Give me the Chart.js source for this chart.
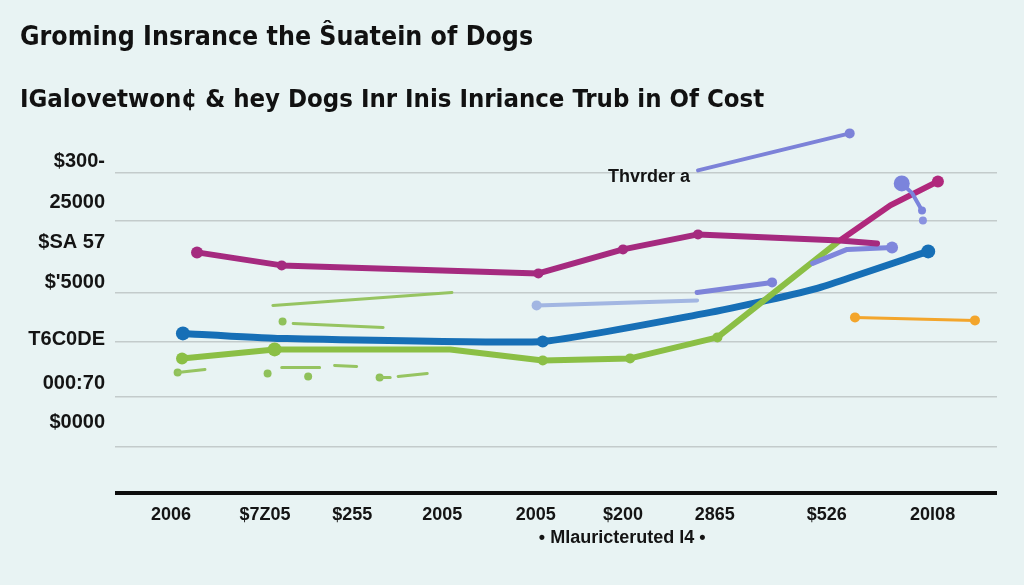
<!DOCTYPE html>
<html>
<head>
<meta charset="utf-8">
<script src="https://cdn.jsdelivr.net/npm/chart.js@4/dist/chart.umd.min.js"></script>
<style>
  html, body { margin: 0; padding: 0; background: #e8f3f3; }
  canvas { display: block; }
</style>
</head>
<body>
<canvas id="c" width="1024" height="585"></canvas>
<script>
// ---- text ----
const titleLine1 = 'Groming Insrance the Ŝuatein of Dogs';
const titleLine2 = 'IGalovetwon¢ & hey Dogs Inr Inis Inriance Trub in Of Cost';
const noteText = 'Thvrder a';
const xTitle = '• Mlauricteruted l4 •';

// ---- axes ----
const xLabels = ['2006', '$7Z05', '$255', '2005', '2005', '$200', '2865', '$526', '20l08'];
const xTickPos = [6.35, 17.0, 26.9, 37.1, 47.7, 57.6, 68.0, 80.7, 92.7];
const yLabels = ['$0000', '000:70', 'T6C0DE', "$'5000", '$SA 57', '25000', '$300-'];
const yLabelPos = [710, 1100, 1540, 2110, 2510, 2910, 3320];
const gridVals = [0, 470, 970, 1520, 2010, 2730, 3210];

// ---- series ----
const magentaX = [9.3, 18.9, 48.0, 57.6, 66.1, 82.2, 86.4];
const magentaY = [2410, 2280, 2200, 2440, 2590, 2530, 2500];
const magentaRiseX = [82.2, 87.9, 93.3];
const magentaRiseY = [2530, 2880, 3120];
const blueX = [7.7, 18.4, 48.5, 66.9, 73.9, 79.6, 92.2];
const blueY = [1600, 1550, 1520, 1800, 1930, 2050, 2420];
const greenX = [7.6, 18.1, 38.0, 48.5, 58.4, 68.3, 81.9];
const greenY = [1350, 1440, 1440, 1330, 1350, 1560, 2510];
const lightBlueX = [47.8, 66.0];
const lightBlueY = [1880, 1930];
const violetMidX = [66.0, 74.5];
const violetMidY = [2010, 2110];
const violetTopX = [66.1, 83.3];
const violetTopY = [3230, 3600];
const violetRightX = [79.1, 83.0, 88.1];
const violetRightY = [2300, 2440, 2460];
const violetBlobX = [89.2, 90.4, 91.5];
const violetBlobY = [3100, 3000, 2830];
const violetDropX = [91.6];
const violetDropY = [2730];
const orangeX = [83.9, 97.5];
const orangeY = [1760, 1730];
const fragX = [17.9, 38.2, 38.2, 20.2, 30.4, 30.4, 7.1, 10.2, 10.2, 18.9, 23.2, 23.2, 24.9, 27.4, 27.4, 30.0, 31.2, 31.2, 32.1, 35.4];
const fragY = [1880, 2010, null, 1700, 1660, null, 1210, 1240, null, 1260, 1260, null, 1280, 1270, null, 1160, 1160, null, 1170, 1200];
const fragDotX = [19.0, 17.3, 21.9, 7.1, 30.0];
const fragDotY = [1720, 1200, 1170, 1210, 1160];

// note / axis title anchors (data units)
const noteX = 65.2, noteY = 3160;
const xTitleX = 57.5;

const pts = (xs, ys) => xs.map((x, i) => ({ x: x, y: ys[i] }));

const FONT = "'Liberation Sans', Arial, sans-serif";
const NARROW = "'Liberation Sans Narrow', 'DejaVu Sans Condensed', 'Liberation Sans', sans-serif";

const textPlugin = {
  id: 'texts',
  afterDraw(chart) {
    const { ctx } = chart;
    const x = chart.scales.x, y = chart.scales.y;
    ctx.save();
    ctx.fillStyle = '#141414';
    ctx.textBaseline = 'middle';
    ctx.font = 'bold 18px ' + FONT;
    ctx.textAlign = 'right';
    ctx.fillText(noteText, x.getPixelForValue(noteX), y.getPixelForValue(noteY));
    ctx.textAlign = 'center';
    ctx.font = 'bold 18px ' + FONT;
    ctx.fillText(xTitle, x.getPixelForValue(xTitleX), x.bottom + 1);
    ctx.restore();
  }
};

const line = (data, color, width, radius, extra) => Object.assign({
  data: data,
  borderColor: color,
  backgroundColor: color,
  borderWidth: width,
  pointRadius: radius,
  pointBorderWidth: 0,
  tension: 0,
  fill: false,
  spanGaps: false,
  borderCapStyle: 'round',
  borderJoinStyle: 'round'
}, extra || {});

new Chart(document.getElementById('c'), {
  type: 'line',
  data: {
    datasets: [
      line(pts(violetBlobX, violetBlobY), '#7b84dc', 4, [8, 0, 4], { order: 1 }),
      line(pts(violetDropX, violetDropY), '#8a92e0', 0, [4], { order: 1, showLine: false }),
      line(pts(magentaRiseX, magentaRiseY), '#b0287c', 6, [0, 0, 6], { order: 2 }),
      line(pts(magentaX, magentaY), '#a52a7f', 6, [6, 5, 5, 5, 5, 0, 0], { order: 3 }),
      line(pts(violetRightX, violetRightY), '#7f86dc', 5, [0, 0, 6], { order: 4 }),
      line(pts(greenX, greenY), '#8bbf45', 6, [6, 7, 0, 5, 5, 5, 0], { order: 5 }),
      line(pts(blueX, blueY), '#176fb6', 7, [7, 0, 6, 0, 0, 0, 7], { order: 6, tension: 0.15 }),
      line(pts(violetMidX, violetMidY), '#7d83d9', 5, [0, 5], { order: 7 }),
      line(pts(lightBlueX, lightBlueY), '#a2b6e2', 4, [5, 0], { order: 8 }),
      line(pts(violetTopX, violetTopY), '#7c82d8', 4, [0, 5], { order: 8 }),
      line(pts(orangeX, orangeY), '#f3a52b', 3, [5, 5], { order: 8 }),
      line(pts(fragX, fragY), '#96c461', 3, 0, { order: 9 }),
      line(pts(fragDotX, fragDotY), '#8fc15a', 0, 4, { order: 9, showLine: false })
    ]
  },
  options: {
    responsive: false,
    animation: false,
    events: [],
    layout: { padding: { left: 20, right: 27, top: 0, bottom: 48 } },
    plugins: {
      legend: { display: false },
      tooltip: { enabled: false },
      title: {
        display: true,
        text: titleLine1,
        align: 'start',
        color: '#111',
        font: { family: NARROW, size: 26.5, weight: 'bold', lineHeight: 1.2 },
        padding: { top: 22, bottom: 31 }
      },
      subtitle: {
        display: true,
        text: titleLine2,
        align: 'start',
        color: '#111',
        font: { family: NARROW, size: 25.5, weight: 'bold', lineHeight: 1.2 },
        padding: { top: 0, bottom: 8 }
      }
    },
    scales: {
      x: {
        type: 'linear',
        min: 0,
        max: 100,
        grid: { display: false, drawTicks: false },
        border: { display: false },
        afterBuildTicks: (s) => { s.ticks = xTickPos.map(v => ({ value: v })); },
        ticks: {
          autoSkip: false,
          maxRotation: 0,
          padding: 11,
          color: '#141414',
          font: { family: FONT, size: 18, weight: 'bold' },
          callback: (v, i) => xLabels[i]
        }
      },
      y: {
        type: 'linear',
        position: 'left',
        min: 0,
        max: 3700,
        afterBuildTicks: (s) => { s.ticks = gridVals.map(v => ({ value: v })); },
        ticks: { display: false },
        border: { display: false },
        grid: {
          drawTicks: false,
          color: (c) => (c.tick && c.tick.value === 0) ? '#0d0d0d' : '#c3cbcb',
          lineWidth: (c) => (c.tick && c.tick.value === 0) ? 4 : 1.5
        },
        afterFit: (s) => { s.width = 0; }
      },
      yl: {
        type: 'linear',
        position: 'left',
        min: 0,
        max: 3700,
        afterBuildTicks: (s) => { s.ticks = yLabelPos.map(v => ({ value: v })); },
        grid: { display: false, drawTicks: false },
        border: { display: false },
        ticks: {
          padding: 10,
          color: '#141414',
          font: { family: FONT, size: 20, weight: 'bold' },
          callback: (v, i) => yLabels[i]
        },
        afterFit: (s) => { s.width = 95; }
      }
    }
  },
  plugins: [textPlugin]
});
</script>
</body>
</html>
